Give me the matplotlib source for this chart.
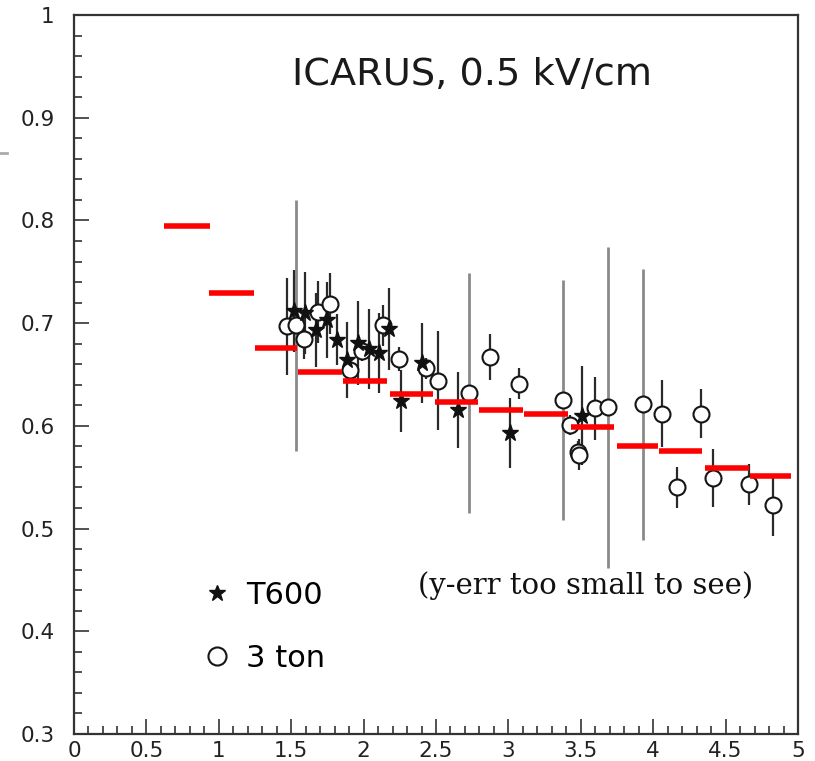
import matplotlib.pyplot as plt
import numpy as np
from matplotlib.lines import Line2D
from matplotlib.ticker import MultipleLocator, FuncFormatter

# MC prediction bins (red segments)
bin_lo = [0.62, 0.93, 1.25, 1.55, 1.86, 2.18, 2.49, 2.80, 3.11, 3.43, 3.75, 4.04, 4.36, 4.67]
bin_hi = [0.94, 1.24, 1.54, 1.85, 2.16, 2.48, 2.79, 3.10, 3.41, 3.73, 4.03, 4.34, 4.66, 4.95]
mc_val = [0.795, 0.729, 0.676, 0.652, 0.644, 0.631, 0.623, 0.615, 0.612, 0.599, 0.580, 0.576, 0.559, 0.551]

# T600 points (stars)
t600_x = [1.52, 1.595, 1.67, 1.75, 1.818, 1.883, 1.964, 2.04, 2.106, 2.178, 2.258, 2.40, 2.65, 3.011, 3.506]
t600_y = [0.712, 0.710, 0.693, 0.703, 0.684, 0.664, 0.681, 0.675, 0.671, 0.694, 0.624, 0.661, 0.615, 0.593, 0.610]
t600_err = [0.040, 0.040, 0.036, 0.037, 0.025, 0.037, 0.041, 0.039, 0.039, 0.040, 0.030, 0.039, 0.037, 0.034, 0.048]

# 3 ton points (open circles)
ton3_x = [1.469, 1.53, 1.59, 1.687, 1.768, 1.906, 1.987, 2.132, 2.247, 2.431, 2.516, 2.73, 2.873,
          3.075, 3.375, 3.425, 3.483, 3.49, 3.598, 3.69, 3.927, 4.058, 4.162, 4.328, 4.415, 4.66, 4.825]
ton3_y = [0.697, 0.698, 0.685, 0.711, 0.719, 0.654, 0.673, 0.698, 0.665, 0.656, 0.644, 0.632, 0.667,
          0.641, 0.625, 0.601, 0.575, 0.572, 0.617, 0.618, 0.621, 0.612, 0.540, 0.612, 0.549, 0.543, 0.523]
ton3_err = [0.047, 0.122, 0.020, 0.030, 0.030, 0.010, 0.010, 0.020, 0.012, 0.010, 0.048, 0.117, 0.022,
            0.015, 0.117, 0.010, 0.010, 0.015, 0.031, 0.156, 0.132, 0.033, 0.020, 0.024, 0.028, 0.020, 0.030]

fig = plt.figure(figsize=(8.15, 7.61), dpi=100)
ax = fig.add_axes([74/815, 1-734/761, 724/815, 719/761])

tx = np.array(ton3_x); ty = np.array(ton3_y); te = np.array(ton3_err)
big = te > 0.1
# large errors are drawn in grey
ax.vlines(tx[big], ty[big]-te[big], ty[big]+te[big], color='#8a8a8a', lw=2.0, zorder=1)
ax.vlines(tx[~big], ty[~big]-te[~big], ty[~big]+te[~big], color='#2a2a2a', lw=1.6, zorder=2)
sx = np.array(t600_x); sy = np.array(t600_y); se = np.array(t600_err)
ax.vlines(sx, sy-se, sy+se, color='#2a2a2a', lw=1.6, zorder=2)

ax.plot(tx, ty, 'o', mfc='white', mec='#151515', mew=1.5, ms=11.5, ls='none', zorder=3)
ax.plot(sx, sy, '*', color='#111111', ms=12.5, ls='none', zorder=3.5)

ax.hlines(mc_val, bin_lo, bin_hi, color='#ff0000', lw=4.0, zorder=4)

ax.set_xlim(0, 5)
ax.set_ylim(0.3, 1.0)
ax.xaxis.set_major_locator(MultipleLocator(0.5))
ax.xaxis.set_minor_locator(MultipleLocator(0.1))
ax.yaxis.set_major_locator(MultipleLocator(0.1))
ax.yaxis.set_minor_locator(MultipleLocator(0.02))
fmt = FuncFormatter(lambda v, p: f"{v:g}")
ax.xaxis.set_major_formatter(fmt)
ax.yaxis.set_major_formatter(fmt)
ax.tick_params(which='both', direction='in', top=False, right=False, color='#333333',
               labelsize=15.5, labelcolor='#222222')
ax.tick_params(which='major', length=11, width=1.2)
ax.tick_params(which='minor', length=5.5, width=1.2)
ax.tick_params(axis='y', pad=14)
ax.tick_params(axis='x', pad=5)
for s in ax.spines.values():
    s.set_linewidth(1.6)
    s.set_color('#333333')

ax.text(0.55, 0.916, "ICARUS, 0.5 kV/cm", transform=ax.transAxes, ha='center', va='center',
        fontsize=27.5, color='#1a1a1a')

handles = [Line2D([], [], marker='*', color='#111111', ls='none', ms=12),
           Line2D([], [], marker='o', mfc='white', mec='#151515', mew=1.5, ls='none', ms=13)]
ax.legend(handles, ["T600", "3 ton"], loc='center left', bbox_to_anchor=(0.176, 0.149),
          frameon=False, fontsize=22, borderpad=0, borderaxespad=0, handlelength=1.0,
          handletextpad=0.45, labelspacing=1.1)

ax.text(0.707, 0.207, "(y-err too small to see)", transform=ax.transAxes, ha='center', va='center',
        fontsize=21, family='DejaVu Serif', color='#111111')

fig.add_artist(Line2D([0, 0.009], [1-153/761, 1-153/761], color='#aaaaaa', lw=2))

fig.savefig("out.png", dpi=100)
